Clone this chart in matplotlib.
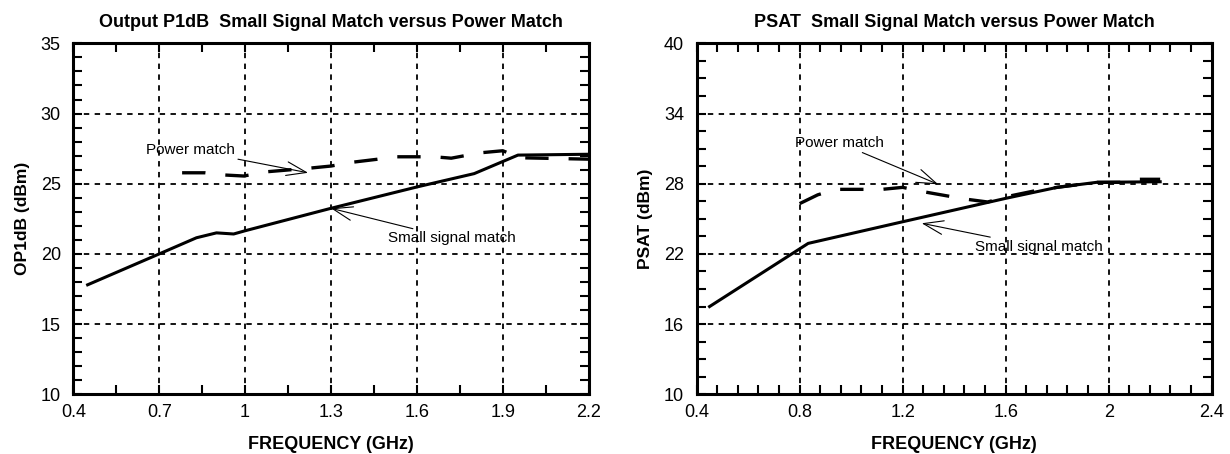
import numpy as np
import matplotlib
matplotlib.use('Agg')
import matplotlib.pyplot as plt
from matplotlib.ticker import FixedLocator, FormatStrFormatter

plt.rcParams['font.family'] = ['Liberation Sans', 'DejaVu Sans']

# left chart: output P1dB
p1db_small_freq = [0.45, 0.70, 0.83, 0.90, 0.96, 1.00, 1.30, 1.60, 1.80, 1.953, 2.20]
p1db_small_val = [17.8, 20.0, 21.15, 21.5, 21.42, 21.65, 23.25, 24.77, 25.72, 27.04, 27.1]
p1db_power_freq = [0.78, 0.86, 0.93, 0.995, 1.08, 1.22, 1.30, 1.37, 1.46, 1.52, 1.59,
                   1.66, 1.72, 1.82, 1.90, 1.96, 2.20]
p1db_power_val = [25.78, 25.78, 25.62, 25.55, 25.86, 26.1, 26.26, 26.52, 26.74, 26.92, 26.92,
                  26.92, 26.82, 27.2, 27.35, 26.85, 26.75]

# right chart: PSAT
psat_small_freq = [0.45, 0.833, 1.20, 1.60, 1.80, 1.953, 2.20]
psat_small_val = [17.5, 22.9, 24.75, 26.75, 27.69, 28.12, 28.17]
psat_power_freq = [0.80, 0.87, 0.94, 1.04, 1.12, 1.20, 1.28, 1.37, 1.45, 1.53, 1.62, 1.71,
                   1.80, 1.953, 2.06, 2.11, 2.20]
psat_power_val = [26.3, 27.05, 27.52, 27.52, 27.52, 27.69, 27.32, 26.97, 26.67, 26.44, 26.97,
                  27.38, 27.69, 28.12, 28.12, 28.38, 28.38]

p1db_xticks = [0.4, 0.7, 1.0, 1.3, 1.6, 1.9, 2.2]
p1db_yticks = [10, 15, 20, 25, 30, 35]
psat_xticks = [0.4, 0.8, 1.2, 1.6, 2.0, 2.4]
psat_yticks = [10, 16, 22, 28, 34, 40]


def setup_axes(ax, xticks, yticks, xminor, yminor, title, ylabel):
    """
    Frame, inward ticks on all sides and dotted grid at the major ticks.
    """
    ax.set_xlim(xticks[0], xticks[-1])
    ax.set_ylim(yticks[0], yticks[-1])
    ax.xaxis.set_major_locator(FixedLocator(xticks))
    ax.yaxis.set_major_locator(FixedLocator(yticks))
    ax.xaxis.set_minor_locator(FixedLocator(np.arange(xticks[0], xticks[-1] + 1e-6, xminor)))
    ax.yaxis.set_minor_locator(FixedLocator(np.arange(yticks[0], yticks[-1] + 1e-6, yminor)))
    ax.xaxis.set_major_formatter(FormatStrFormatter('%g'))
    ax.yaxis.set_major_formatter(FormatStrFormatter('%g'))
    ax.tick_params(which='both', direction='in', top=True, right=True,
                   length=6.5, width=1.5, labelsize=13)
    ax.tick_params(axis='x', pad=7)
    ax.tick_params(axis='y', pad=9)
    for s in ax.spines.values():
        s.set_linewidth(2.2)
    ax.grid(True, which='major', color='black', linestyle=(0, (3, 3)), linewidth=1.3)
    ax.set_title(title, fontsize=13, fontweight='bold', pad=12)
    ax.set_xlabel('FREQUENCY (GHz)', fontsize=13, fontweight='bold', labelpad=11)
    ax.set_ylabel(ylabel, fontsize=12.5, fontweight='bold', labelpad=8)


def note(ax, text, xy, xytext):
    ax.annotate(text, xy=xy, xytext=xytext, fontsize=11, va='center', ha='left',
                arrowprops=dict(arrowstyle='->,head_length=1.3,head_width=0.45',
                                lw=0.8, color='black', shrinkA=0, shrinkB=0))


fig = plt.figure(figsize=(12.3, 4.54), dpi=100)

ax1 = fig.add_axes([0.0596, 0.1315, 0.419, 0.773])
ax1.plot(p1db_small_freq, p1db_small_val, color='black', lw=2.2)
ax1.plot(p1db_power_freq, p1db_power_val, color='black', lw=2.4, linestyle=(0, (7, 6)))
setup_axes(ax1, p1db_xticks, p1db_yticks, 0.15, 1.0,
           'Output P1dB  Small Signal Match versus Power Match', 'OP1dB (dBm)')
note(ax1, 'Power match', (1.22, 25.78), (0.655, 27.4))
note(ax1, 'Small signal match', (1.30, 23.25), (1.50, 21.1))

ax2 = fig.add_axes([0.5664, 0.1315, 0.4187, 0.773])
ax2.plot(psat_small_freq, psat_small_val, color='black', lw=2.2)
ax2.plot(psat_power_freq, psat_power_val, color='black', lw=2.4, linestyle=(0, (7, 6)))
setup_axes(ax2, psat_xticks, psat_yticks, 0.08, 1.5,
           'PSAT  Small Signal Match versus Power Match', 'PSAT (dBm)')
note(ax2, 'Power match', (1.338, 27.95), (0.78, 31.5))
note(ax2, 'Small signal match', (1.274, 24.62), (1.48, 22.6))

fig.savefig('out.png', dpi=100)
